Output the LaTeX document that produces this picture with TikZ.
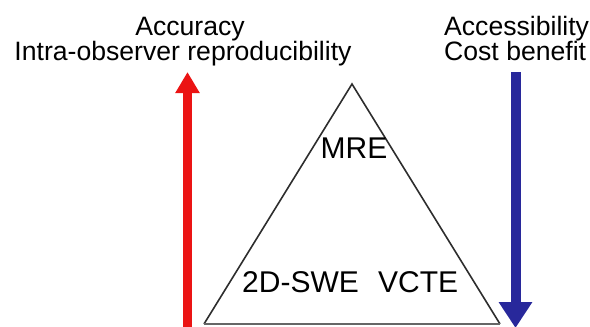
\documentclass[tikz,border=0pt]{standalone}
\usepackage{fontspec}
\setmainfont{Liberation Sans}
\usetikzlibrary{arrows.meta}
\definecolor{ared}{RGB}{235,20,20}
\definecolor{ablue}{RGB}{40,40,155}
\definecolor{tri}{RGB}{45,45,45}
\begin{document}
\begin{tikzpicture}[x=1pt,y=-1pt,
  toplabel/.style={font=\fontsize{26.6}{26}\selectfont, inner sep=0pt, anchor=base},
  trilabel/.style={font=\fontsize{30}{30}\selectfont, inner sep=0pt, anchor=base},
  redarrow/.style={draw=ared, line width=9pt, -{Triangle[length=21pt,width=23pt]}},
  bluearrow/.style={draw=ablue, line width=10pt, -{Triangle[length=26pt,width=32pt]}}]
\useasboundingbox (0,0) rectangle (590,327);
% triangle
\coordinate (apex) at (352,84);
\coordinate (bl) at (204,324);
\coordinate (br) at (500,324);
\draw[tri, line width=1.6pt, line join=miter] (bl) -- (apex) -- (br);
\draw[gray!80!black, line width=2.6pt] (bl) -- (br);
% arrows
\coordinate (rs) at (187.5,330);
\coordinate (re) at (187.5,72);
\draw[redarrow] (rs) -- (re);
\coordinate (bs) at (515.5,72);
\coordinate (be) at (515.5,328);
\draw[bluearrow] (bs) -- (be);
% labels
\node[toplabel] (acc) at (190,35) {Accuracy};
\node[toplabel] (intra) at (183,60) {Intra-observer reproducibility};
\node[toplabel, anchor=base west] (access) at (444,35) {Accessibility};
\node[toplabel, anchor=base west] (cost) at (444,60) {Cost benefit};
\node[trilabel] (mre) at (354,158) {MRE};
\node[trilabel, anchor=base west] (swe) at (242,292) {2D-SWE};
\node[trilabel, anchor=base west] (vcte) at (378,292) {VCTE};
\end{tikzpicture}
\end{document}
